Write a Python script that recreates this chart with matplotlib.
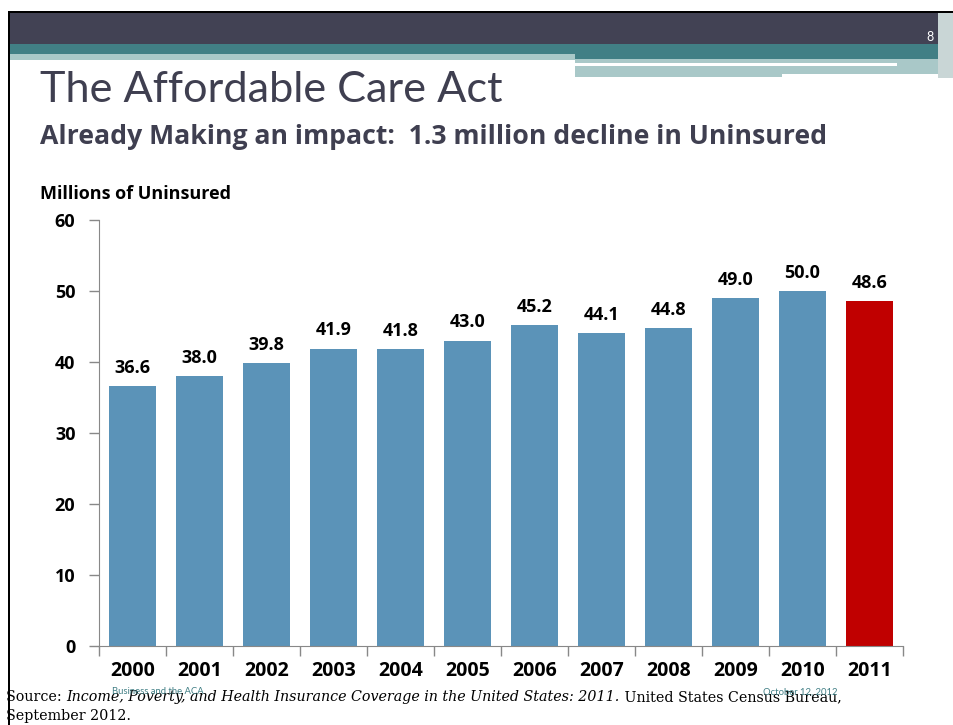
import matplotlib
matplotlib.use("Agg")
import matplotlib.pyplot as plt
from matplotlib.patches import Rectangle

years = ["2000", "2001", "2002", "2003", "2004", "2005",
         "2006", "2007", "2008", "2009", "2010", "2011"]
uninsured = [36.6, 38.0, 39.8, 41.9, 41.8, 43.0, 45.2, 44.1, 44.8, 49.0, 50.0, 48.6]
yticks = [0, 10, 20, 30, 40, 50, 60]

BLUE = "#5b93b8"
RED = "#c00000"
DARK = "#424254"
TEAL = "#417f85"
LIGHT = "#a9c8c8"
TXT = "#3f3f50"
BOLD = "Open Sans"
SERIF = "DejaVu Serif"

W, H = 954, 725
fig = plt.figure(figsize=(W / 100, H / 100), dpi=100)
renderer = fig.canvas.get_renderer()


def px_rect(x0, y0, x1, y1, color, z=0):
    # pixel coords measured from top-left
    fig.patches.append(Rectangle((x0 / W, 1 - y1 / H), (x1 - x0) / W, (y1 - y0) / H,
                                 transform=fig.transFigure, facecolor=color,
                                 edgecolor="none", zorder=z))


def fit(t, width_px):
    # scale the font so the text spans the measured width
    w = t.get_window_extent(renderer).width
    t.set_fontsize(t.get_fontsize() * width_px / w)
    return t


# slide header decoration
px_rect(8, 11, W, 13, "black")
px_rect(8, 11, 10, H, "black")
px_rect(10, 13, 938, 44, DARK)
px_rect(10, 44, 938, 59, TEAL)
px_rect(10, 54, 575, 60, LIGHT)
px_rect(575, 59, 938, 63, LIGHT)
px_rect(575, 63, 897, 66, "white")
px_rect(897, 63, 938, 66, LIGHT)
px_rect(575, 66, 938, 74, LIGHT)
px_rect(575, 74, 782, 77, LIGHT)
px_rect(938, 13, W, 78, "#c9d6d6")

fig.text(930 / W, 1 - 37 / H, "8", color="white", fontsize=9, family="Lato",
         ha="center", va="center")
fit(fig.text(40 / W, 1 - 90 / H, "The Affordable Care Act", color=TXT, fontsize=30,
             family="Lato", ha="left", va="center"), 462)
fit(fig.text(40 / W, 1 - 137 / H,
             "Already Making an impact:  1.3 million decline in Uninsured",
             color=TXT, fontsize=18, family=BOLD, weight="bold", ha="left", va="center"), 789)
fit(fig.text(40 / W, 1 - 194 / H, "Millions of Uninsured", color="black", fontsize=13,
             family=BOLD, weight="bold", ha="left", va="center"), 190)

ax = fig.add_axes([99 / W, 1 - 646 / H, 804 / W, 426 / H])
x = list(range(len(years)))
colors = [BLUE] * (len(years) - 1) + [RED]
ax.bar(x, uninsured, width=0.71, color=colors)
for xi, v in zip(x, uninsured):
    ax.text(xi, v + 1.3, f"{v:.1f}", ha="center", va="bottom", fontsize=13,
            family=BOLD, weight="bold")

ax.set_xlim(-0.5, len(years) - 0.5)
ax.set_ylim(0, 60)
ax.set_yticks(yticks)
ax.set_yticklabels([str(t) for t in yticks], family=BOLD, weight="bold", fontsize=13)
ax.set_xticks([i - 0.5 for i in range(len(years) + 1)])
ax.set_xticklabels([])
ax.set_xticks(x, minor=True)
ax.set_xticklabels(years, minor=True, family=BOLD, weight="bold", fontsize=14)
ax.tick_params(axis="x", which="minor", length=0, pad=11)
ax.tick_params(axis="x", which="major", length=7, color="#888888", width=1)
ax.tick_params(axis="y", length=7, color="#888888", width=1, pad=10)
for s in ["top", "right"]:
    ax.spines[s].set_visible(False)
for s in ["left", "bottom"]:
    ax.spines[s].set_color("#888888")

# source footnote, pieces placed one after another
parts = [("Source: ", "normal"),
         ("Income, Poverty, and Health Insurance Coverage in the United States: 2011.", "italic"),
         (" United States Census Bureau,", "normal")]
size = 11
xpos = 6
texts = []
for s, st in parts:
    t = fig.text(xpos / W, 1 - 697 / H, s, family=SERIF, style=st, fontsize=size,
                 ha="left", va="center")
    texts.append(t)
    xpos += t.get_window_extent(renderer).width
scale = 832 / (xpos - 6)
xpos = 6
for t in texts:
    t.set_fontsize(size * scale)
    t.set_x(xpos / W)
    xpos += t.get_window_extent(renderer).width
fig.text(6 / W, 1 - 716 / H, "September 2012.", family=SERIF, fontsize=size * scale,
         ha="left", va="center")
fig.text(112 / W, 1 - 692 / H, "Business and the ACA", color=TEAL, fontsize=6.8,
         family="Lato", ha="left", va="center", zorder=5)
fig.text(838 / W, 1 - 692 / H, "October 12, 2012", color=TEAL, fontsize=6.8,
         family="Lato", ha="right", va="center", zorder=5)

fig.savefig("out.png", dpi=100)
